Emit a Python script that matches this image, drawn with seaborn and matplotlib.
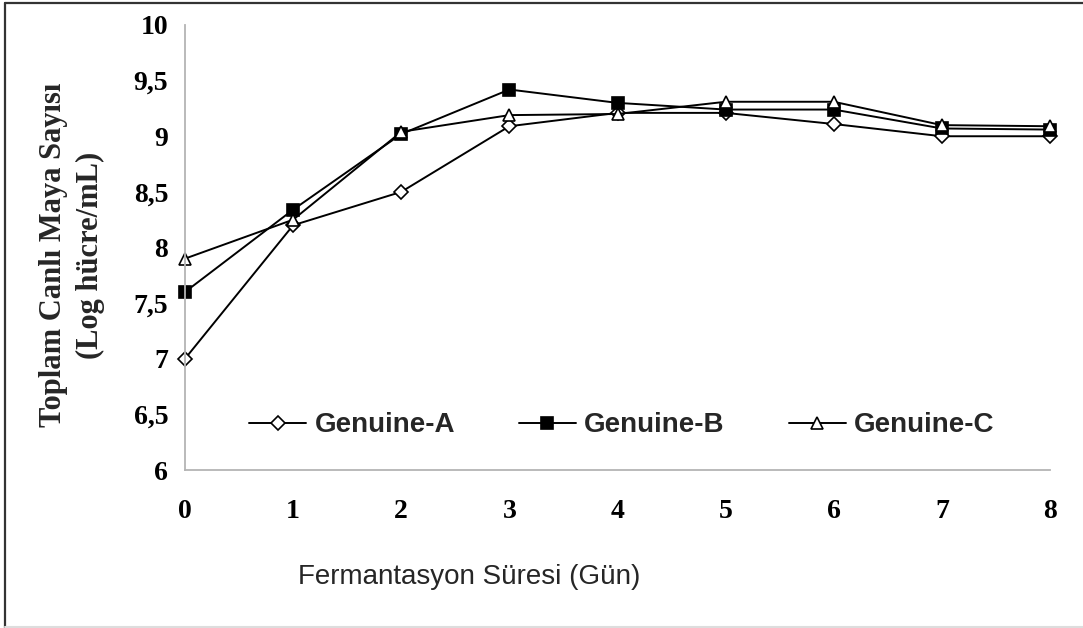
import matplotlib
matplotlib.use("Agg")
import matplotlib.pyplot as plt
import seaborn as sns
import pandas as pd
from matplotlib.lines import Line2D

days = [0, 1, 2, 3, 4, 5, 6, 7, 8]
genuine_a = [7.0, 8.2, 8.5, 9.09, 9.21, 9.21, 9.11, 9.0, 9.0]
genuine_b = [7.6, 8.34, 9.02, 9.42, 9.30, 9.24, 9.24, 9.07, 9.06]
genuine_c = [7.9, 8.25, 9.04, 9.19, 9.20, 9.31, 9.31, 9.10, 9.09]
series_names = ["Genuine-A", "Genuine-B", "Genuine-C"]
y_ticks = [6, 6.5, 7, 7.5, 8, 8.5, 9, 9.5, 10]
y_tick_labels = ["6", "6,5", "7", "7,5", "8", "8,5", "9", "9,5", "10"]
y_label = "Toplam Canlı Maya Sayısı\n(Log hücre/mL)"
x_label = "Fermantasyon Süresi (Gün)"

sns.set_theme(style="white")
plt.rcParams["font.family"] = ["Liberation Serif", "DejaVu Serif"]

df = pd.DataFrame({
    "day": days * 3,
    "value": genuine_a + genuine_b + genuine_c,
    "series": [s for s in series_names for _ in days],
})

fig = plt.figure(figsize=(10.83, 6.28), dpi=100)
ax = fig.add_axes([185 / 1083, 1 - 470 / 628, 865 / 1083, 445 / 628])

styles = {
    "Genuine-A": dict(marker="D", markersize=7, markerfacecolor="white"),
    "Genuine-B": dict(marker="s", markersize=8, markerfacecolor="black"),
    "Genuine-C": dict(marker="^", markersize=9, markerfacecolor="white"),
}
for name in series_names:
    sub = df[df["series"] == name]
    sns.lineplot(data=sub, x="day", y="value", ax=ax, color="black",
                 linewidth=1.4, markeredgecolor="black", markeredgewidth=1.2,
                 clip_on=False, label=name, legend=False, **styles[name])

ax.set_xlim(0, 8)
ax.set_ylim(6, 10)
ax.set_xticks(days)
ax.set_xticklabels([str(d) for d in days])
ax.set_yticks(y_ticks)
ax.set_yticklabels(y_tick_labels)
ax.set_xlabel("")
ax.set_ylabel("")
for s in ["top", "right"]:
    ax.spines[s].set_visible(False)
for s in ["left", "bottom"]:
    ax.spines[s].set_color("#b4b4b4")
    ax.spines[s].set_linewidth(1.3)
ax.tick_params(axis="both", which="major", direction="out", length=6,
               width=1.1, color="#b4b4b4", labelsize=20, labelcolor="black")
ax.tick_params(axis="y", pad=6)
ax.tick_params(axis="x", pad=15)
for lbl in ax.get_xticklabels() + ax.get_yticklabels():
    lbl.set_fontweight("bold")
ax.grid(False)

handles = [Line2D([], [], color="black", linewidth=1.4, markeredgecolor="black",
                  markeredgewidth=1.2, **styles[n]) for n in series_names]
leg = ax.legend(handles, series_names, ncol=3, frameon=False,
                loc="center", bbox_to_anchor=(0.505, 0.100),
                handlelength=2.05, handletextpad=0.3, columnspacing=2.3,
                prop=dict(family=["Liberation Sans Narrow", "Liberation Sans", "DejaVu Sans"],
                          weight="bold", size=20))

fig.text(72 / 1083, 1 - 255 / 628, y_label, rotation=90, ha="center", va="center",
         multialignment="center", fontsize=22, fontweight="bold", linespacing=1.35)
fig.text(298 / 1083, 1 - 577 / 628, x_label, ha="left", va="center",
         fontsize=20, family=["Liberation Sans", "DejaVu Sans"])

fig.add_artist(Line2D([5 / 1083, 5 / 1083], [0, 1 - 3 / 628], transform=fig.transFigure,
                      color="#333333", linewidth=1.6))
fig.add_artist(Line2D([5 / 1083, 1], [1 - 3 / 628, 1 - 3 / 628], transform=fig.transFigure,
                      color="#333333", linewidth=1.6))
fig.add_artist(Line2D([5 / 1083, 1], [1.5 / 628, 1.5 / 628], transform=fig.transFigure,
                      color="#dddddd", linewidth=1.5))

fig.savefig("out.png", dpi=100)
